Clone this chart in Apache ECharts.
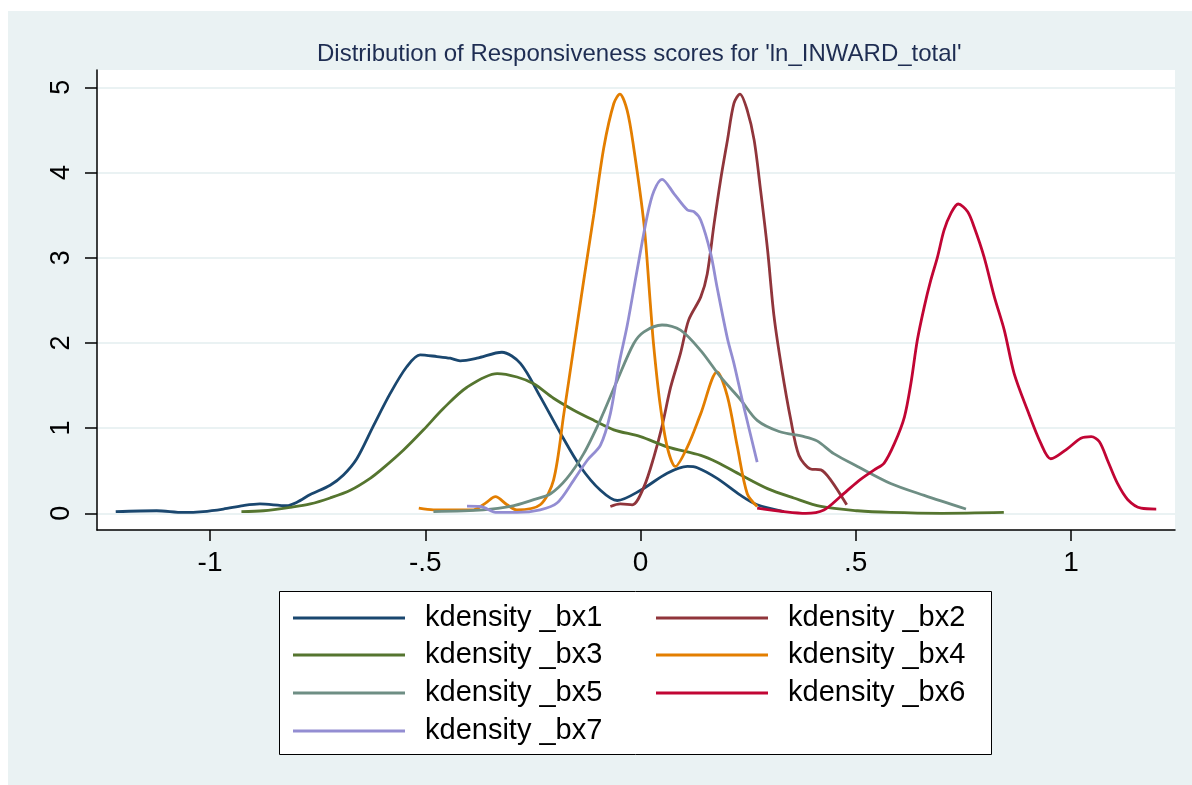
<!DOCTYPE html>
<html>
<head>
<meta charset="utf-8">
<script src="https://cdn.jsdelivr.net/npm/echarts@6/dist/echarts.min.js"></script>
<style>
  html, body { margin: 0; padding: 0; background: #ffffff; }
  #main { position: absolute; left: 8px; top: 11px; width: 1184px; height: 774px; }
</style>
</head>
<body>
<div id="main"></div>
<script>
// ---- data (x = score, y = density) ----
const seriesNames = ['kdensity _bx1', 'kdensity _bx2', 'kdensity _bx3', 'kdensity _bx4', 'kdensity _bx5', 'kdensity _bx6', 'kdensity _bx7'];
const seriesColors = ['#1a476f', '#90353b', '#55752f', '#e37e00', '#6e8e84', '#c10534', '#938dd2'];
const xTicks = [-1, -0.5, 0, 0.5, 1];
const yTicks = [0, 1, 2, 3, 4, 5];

const bx1 = [[-1.219,0.02],[-1.124,0.03],[-1.062,0.01],[-1.016,0.02],[-0.969,0.05],[-0.923,0.09],[-0.884,0.11],[-0.822,0.09],[-0.798,0.13],[-0.767,0.22],[-0.721,0.33],[-0.69,0.45],[-0.659,0.64],[-0.621,1.02],[-0.581,1.41],[-0.543,1.72],[-0.512,1.86],[-0.473,1.84],[-0.442,1.82],[-0.419,1.79],[-0.38,1.82],[-0.322,1.89],[-0.279,1.76],[-0.233,1.37],[-0.186,0.94],[-0.14,0.55],[-0.093,0.27],[-0.054,0.15],[0.0,0.27],[0.062,0.47],[0.109,0.55],[0.132,0.535],[0.178,0.41],[0.233,0.21],[0.271,0.1],[0.333,0.02]];
const bx2 = [[-0.07,0.08],[-0.047,0.11],[-0.019,0.1],[0.008,0.31],[0.031,0.66],[0.05,1.02],[0.07,1.48],[0.093,1.88],[0.112,2.27],[0.14,2.54],[0.155,2.81],[0.171,3.4],[0.186,3.91],[0.202,4.38],[0.217,4.81],[0.231,4.92],[0.248,4.73],[0.264,4.38],[0.279,3.79],[0.295,3.1],[0.31,2.32],[0.328,1.7],[0.349,1.1],[0.368,0.68],[0.395,0.52],[0.419,0.51],[0.442,0.39],[0.479,0.1]];
const bx3 = [[-0.927,0.02],[-0.876,0.03],[-0.814,0.07],[-0.767,0.11],[-0.721,0.18],[-0.674,0.27],[-0.628,0.41],[-0.598,0.53],[-0.551,0.74],[-0.504,0.98],[-0.458,1.23],[-0.403,1.48],[-0.333,1.64],[-0.287,1.6],[-0.248,1.52],[-0.202,1.35],[-0.155,1.21],[-0.108,1.09],[-0.062,0.98],[0.0,0.9],[0.062,0.78],[0.14,0.68],[0.178,0.6],[0.233,0.45],[0.295,0.29],[0.356,0.18],[0.419,0.08],[0.504,0.03],[0.581,0.01],[0.7,0.0],[0.844,0.01]];
const bx4 = [[-0.515,0.06],[-0.481,0.04],[-0.388,0.04],[-0.36,0.12],[-0.337,0.195],[-0.31,0.1],[-0.287,0.04],[-0.233,0.1],[-0.202,0.39],[-0.178,1.17],[-0.155,1.95],[-0.132,2.73],[-0.108,3.52],[-0.085,4.3],[-0.062,4.81],[-0.048,4.92],[-0.031,4.73],[-0.016,4.3],[0.008,3.4],[0.023,2.45],[0.03,2.0],[0.045,1.3],[0.062,0.78],[0.081,0.55],[0.109,0.78],[0.14,1.17],[0.178,1.66],[0.202,1.37],[0.225,0.78],[0.248,0.23],[0.271,0.08]];
const bx5 = [[-0.481,0.02],[-0.365,0.04],[-0.302,0.08],[-0.248,0.16],[-0.209,0.23],[-0.171,0.41],[-0.132,0.7],[-0.093,1.1],[-0.054,1.56],[-0.016,1.99],[0.008,2.13],[0.05,2.21],[0.093,2.15],[0.14,1.91],[0.186,1.6],[0.233,1.33],[0.271,1.09],[0.322,0.96],[0.38,0.9],[0.41,0.85],[0.449,0.7],[0.504,0.55],[0.581,0.35],[0.659,0.21],[0.756,0.05]];
const bx6 = [[0.271,0.06],[0.333,0.02],[0.384,0.0],[0.426,0.04],[0.465,0.2],[0.504,0.37],[0.543,0.51],[0.566,0.59],[0.59,0.82],[0.613,1.13],[0.628,1.52],[0.643,2.03],[0.659,2.42],[0.674,2.73],[0.69,3.01],[0.705,3.32],[0.721,3.52],[0.738,3.63],[0.76,3.54],[0.775,3.36],[0.798,3.01],[0.822,2.54],[0.845,2.15],[0.868,1.64],[0.899,1.21],[0.93,0.82],[0.953,0.64],[0.992,0.76],[1.023,0.88],[1.047,0.9],[1.066,0.84],[1.085,0.62],[1.108,0.35],[1.132,0.16],[1.163,0.06],[1.198,0.05]];
const bx7 = [[-0.403,0.085],[-0.372,0.08],[-0.333,0.01],[-0.287,0.01],[-0.233,0.04],[-0.194,0.12],[-0.155,0.39],[-0.124,0.62],[-0.093,0.8],[-0.07,1.17],[-0.05,1.75],[-0.031,2.2],[-0.008,2.85],[0.016,3.5],[0.031,3.78],[0.05,3.92],[0.078,3.75],[0.109,3.56],[0.124,3.54],[0.14,3.44],[0.163,3.05],[0.178,2.65],[0.202,2.05],[0.217,1.76],[0.24,1.25],[0.271,0.6]];
const seriesData = [bx1, bx2, bx3, bx4, bx5, bx6, bx7];

// ---- chart ----
const FONT = "'Liberation Sans', Arial, Helvetica, sans-serif";
const chart = echarts.init(document.getElementById('main'), null, { renderer: 'canvas' });

const fmt = v => {
  if (v === 0) return '0';
  let s = String(v);
  return s.replace(/^(-?)0\./, '$1.');
};

// legend: 2 columns x 4 rows
const legendCols = [285, 648];
const legendRowCenters = [607, 644, 682, 720];
const LEGEND_FONT = 29;
const legends = seriesNames.map((name, i) => ({
  data: [name],
  left: legendCols[i % 2],
  top: legendRowCenters[Math.floor(i / 2)] - LEGEND_FONT / 2,
  orient: 'horizontal',
  padding: 0,
  icon: 'rect',
  itemWidth: 112,
  itemHeight: 3,
  selectedMode: false,
  textStyle: { fontFamily: FONT, fontSize: LEGEND_FONT, lineHeight: LEGEND_FONT, color: '#000', padding: [0, 0, 0, 15] }
}));

const option = {
  backgroundColor: '#EAF2F3',
  animation: false,
  title: {
    text: "Distribution of Responsiveness scores for 'ln_INWARD_total'",
    left: 309,
    top: 31,
    padding: 0,
    textStyle: { fontFamily: FONT, fontSize: 24, fontWeight: 'normal', color: '#1e2d52' }
  },
  grid: {
    left: 89, top: 59, width: 1078, height: 460,
    show: true, backgroundColor: '#ffffff', borderWidth: 0,
    containLabel: false
  },
  graphic: [{
    type: 'rect', left: 271, top: 580, z: -1,
    shape: { width: 712, height: 163 },
    style: { fill: '#ffffff', stroke: '#000000', lineWidth: 1 }
  }],
  legend: legends,
  xAxis: {
    type: 'value', min: -1.2625, max: 1.2416,
    axisLine: { show: true, onZero: false, lineStyle: { color: '#000', width: 1.5 } },
    axisTick: { show: true, length: 11, lineStyle: { color: '#000', width: 1.5 }, customValues: xTicks },
    axisLabel: { customValues: xTicks, formatter: fmt, fontFamily: FONT, fontSize: 28, color: '#000', margin: 19 },
    splitLine: { show: false }
  },
  yAxis: {
    type: 'value', min: -0.196, max: 5.203,
    axisLine: { show: true, onZero: false, lineStyle: { color: '#000', width: 1.5 } },
    axisTick: { show: true, length: 12, lineStyle: { color: '#000', width: 1.5 }, customValues: yTicks },
    axisLabel: { customValues: yTicks, rotate: 90, fontFamily: FONT, fontSize: 27, color: '#000', margin: 22 },
    splitLine: { show: true, lineStyle: { color: '#EAF2F3', width: 2 } }
  },
  series: seriesNames.map((name, i) => ({
    name,
    type: 'line',
    data: seriesData[i],
    smooth: 0.3,
    symbol: 'none',
    showSymbol: false,
    color: seriesColors[i],
    lineStyle: { color: seriesColors[i], width: 2.8 },
    emphasis: { disabled: true }
  }))
};
chart.setOption(option);
</script>
</body>
</html>
